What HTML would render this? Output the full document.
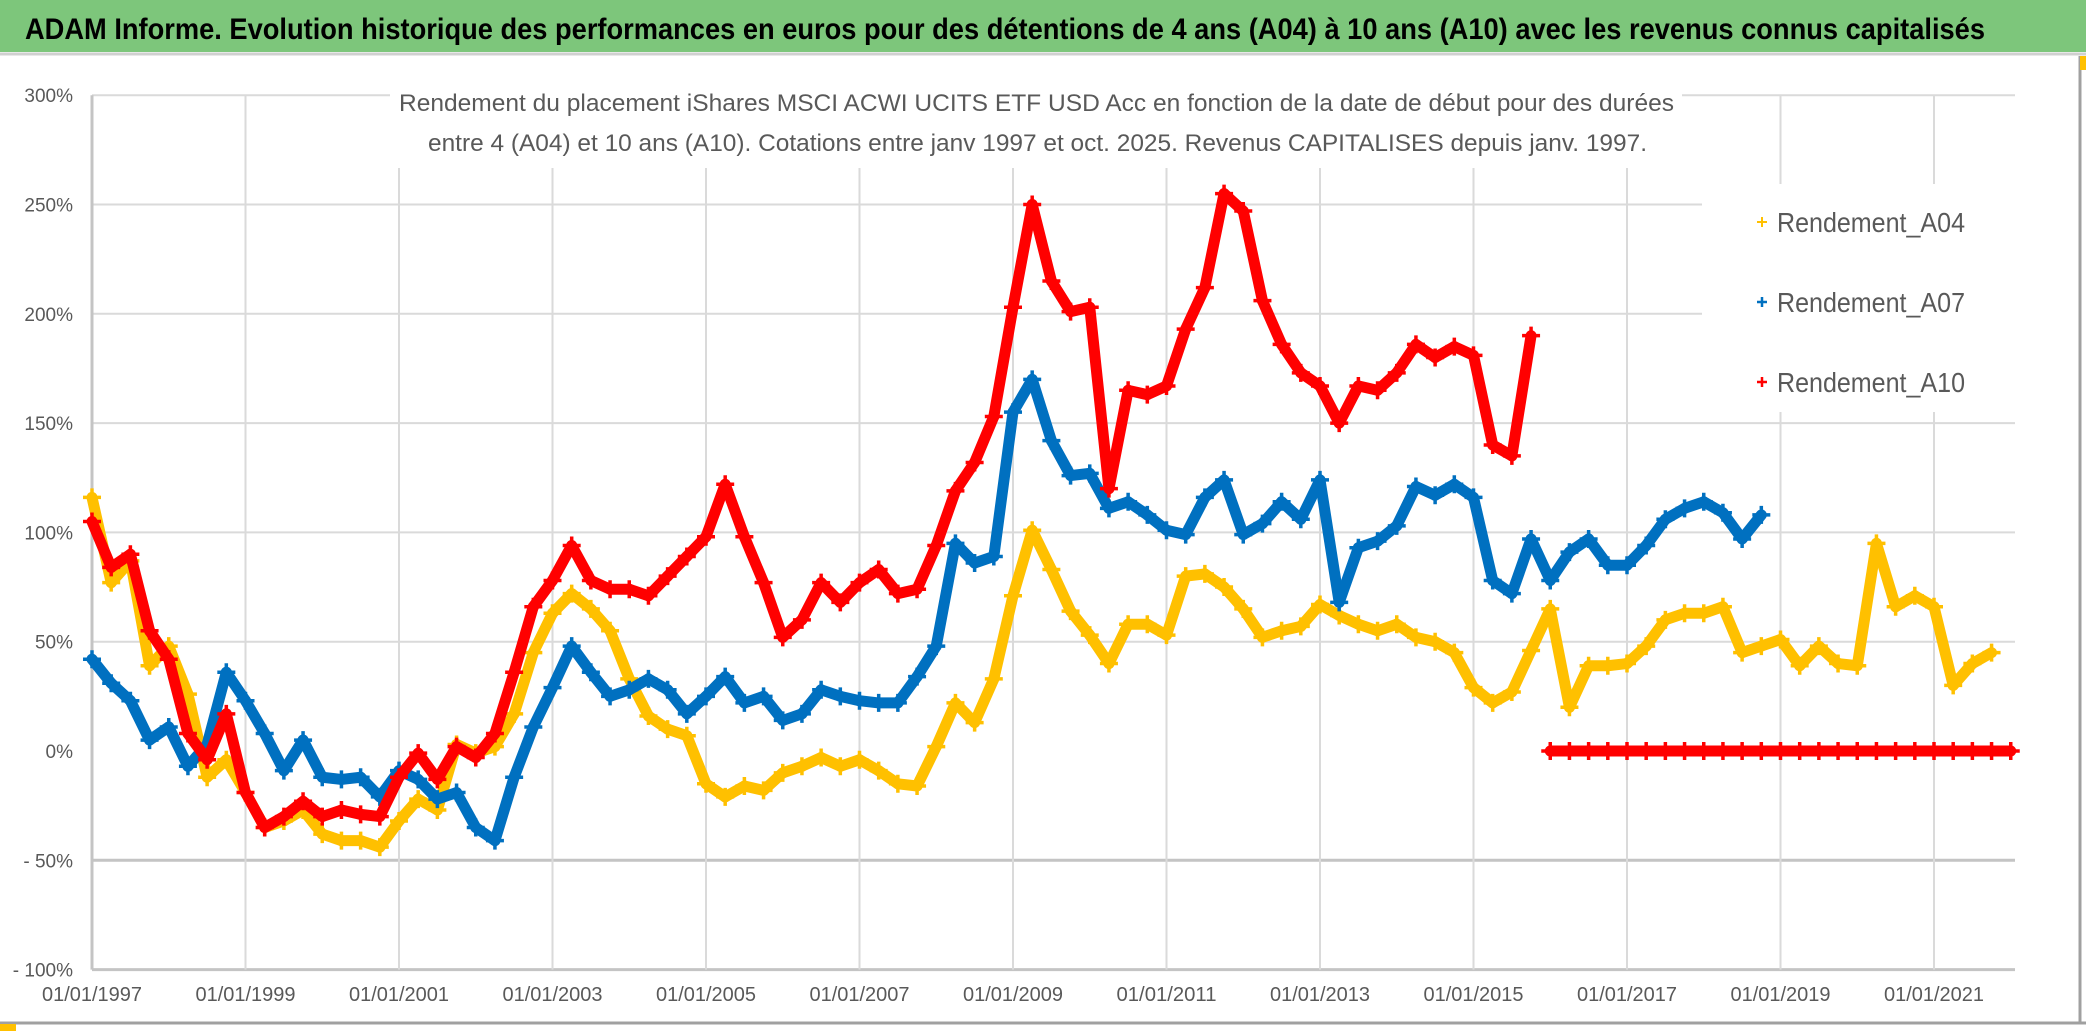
<!DOCTYPE html>
<html><head><meta charset="utf-8"><style>
html,body{margin:0;padding:0;background:#fff;}
svg{display:block;}
</style></head><body>
<svg id="chart" width="2086" height="1032" viewBox="0 0 2086 1032" xmlns="http://www.w3.org/2000/svg">
<rect x="0" y="0" width="2086" height="1032" fill="#ffffff"/>
<rect x="0" y="0" width="2086" height="52" fill="#7dc67b"/>
<line x1="0" y1="54" x2="2086" y2="54" stroke="#d0d0d0" stroke-width="3"/>
<text x="25" y="39" font-family="Liberation Sans, sans-serif" font-weight="bold" font-size="30" fill="#000" textLength="1960" lengthAdjust="spacingAndGlyphs">ADAM Informe. Evolution historique des performances en euros pour des détentions de 4 ans (A04) à 10 ans (A10) avec les revenus connus capitalisés</text>
<line x1="2080" y1="56" x2="2080" y2="1024" stroke="#a0a0a0" stroke-width="3"/>
<line x1="0" y1="1023" x2="2086" y2="1023" stroke="#a0a0a0" stroke-width="3"/>
<rect x="0" y="1024" width="16" height="7" fill="#ffc000"/>
<rect x="2080" y="56" width="6" height="14" fill="#ffc000"/>
<g id="grid"></g>
<g id="series"></g>
<rect x="390" y="78" width="1292" height="90" fill="#fff"/>
<text x="399" y="111" font-family="Liberation Sans, sans-serif" font-size="24" fill="#595959" textLength="1275" lengthAdjust="spacingAndGlyphs">Rendement du placement iShares MSCI ACWI UCITS ETF USD Acc en fonction de la date de début pour des durées</text>
<text x="428" y="151" font-family="Liberation Sans, sans-serif" font-size="24" fill="#595959" textLength="1219" lengthAdjust="spacingAndGlyphs">entre 4 (A04) et 10 ans (A10). Cotations entre janv 1997 et oct. 2025. Revenus CAPITALISES depuis janv. 1997.</text>
<g id="legend">
<rect x="1702" y="184" width="314" height="228" fill="#fff"/>
<g>
<path d="M1757 222h10M1762 217v10" stroke="#ffc000" stroke-width="2"/>
<text x="1777" y="232" font-family="Liberation Sans, sans-serif" font-size="28" fill="#595959" textLength="188" lengthAdjust="spacingAndGlyphs">Rendement_A04</text></g>
<g>
<path d="M1757 302h10M1762 297v10" stroke="#0070c0" stroke-width="2.5"/>
<text x="1777" y="312" font-family="Liberation Sans, sans-serif" font-size="28" fill="#595959" textLength="188" lengthAdjust="spacingAndGlyphs">Rendement_A07</text></g>
<g>
<path d="M1757 382h10M1762 377v10" stroke="#ff0000" stroke-width="2.5"/>
<text x="1777" y="392" font-family="Liberation Sans, sans-serif" font-size="28" fill="#595959" textLength="188" lengthAdjust="spacingAndGlyphs">Rendement_A10</text></g>
</g>
</svg>
<script>
// ---- data (quarterly samples starting 01/01/1997) ----
const startYear = 1997.0;
const stepYears = 0.25;
const yTicks = [300, 250, 200, 150, 100, 50, 0, -50, -100];
const yTickLabels = ["300%","250%","200%","150%","100%","50%","0%","- 50%","- 100%"];
const xTicks = [1997,1999,2001,2003,2005,2007,2009,2011,2013,2015,2017,2019,2021];
const xTickLabels = ["01/01/1997","01/01/1999","01/01/2001","01/01/2003","01/01/2005","01/01/2007","01/01/2009","01/01/2011","01/01/2013","01/01/2015","01/01/2017","01/01/2019","01/01/2021"];
const a04 = [116,77,87,39, 48,26,-12,-4, -19,-35,-32,-27, -38,-41,-41,-44, -32,-22,-27,3, -1,2,17,45,
  63,72,65,55, 33,16,10,7, -15,-21,-16,-18, -10,-7,-3,-7, -4,-9,-15,-16, 2,22,13,33,
  71,101,83,64, 53,40,58,58, 53,80,81,75, 65,52,55,57, 67,62,58,55, 58,52,50,45,
  29,22,27,46, 65,20,39,39, 40,48,60,63, 63,66,45,48, 51,39,48,40, 39,95,66,71, 66,30,40,45];
const a07 = [42,31,23,5, 11,-7,3,36, 23,8,-9,5, -12,-13,-12,-21, -9,-13,-22,-19, -35,-41,-12,11,
  29,48,36,25, 28,33,28,17, 25,34,22,25, 14,17,28,25, 23,22,22,34, 48,95,86,89,
  155,170,142,126, 127,111,114,108, 101,99,116,124, 99,104,114,106, 124,68,93,96,
  103,121,117,122, 116,78,72,97, 78,91,97,85, 85,94,106,111, 114,109,97,108];
const a10 = [105,84,90,55, 42,8,-4,17, -19,-35,-30,-23, -30,-27,-29,-30, -12,-1,-13,2, -3,8,36,66,
  78,94,78,74, 74,71,80,89, 98,122,98,77, 52,60,77,68, 77,83,72,74, 94,119,132,153,
  203,250,215,201, 203,120,165,163, 167,193,212,255, 247,206,186,173, 167,150,167,165,
  173,186,180,185, 181,140,135,190,
  0,0,0,0, 0,0,0,0, 0,0,0,0, 0,0,0,0, 0,0,0,0, 0,0,0,0, 0];

// ---- axes ----
const X0 = 92, PX_PER_YEAR = 76.75;
const Y0 = 751, PX_PER_PCT = 2.186;
function xs(yr){ return X0 + (yr - 1997) * PX_PER_YEAR; }
function ys(v){ return Y0 - v * PX_PER_PCT; }
const NS = "http://www.w3.org/2000/svg";
const svg = document.getElementById('chart');
const grid = document.getElementById('grid');
const series = document.getElementById('series');
const PLOT_RIGHT = 2015;

function mk(tag, attrs, parent){
  const e = document.createElementNS(NS, tag);
  for (const k in attrs) e.setAttribute(k, attrs[k]);
  parent.appendChild(e);
  return e;
}

yTicks.forEach((v, i) => {
  const y = ys(v);
  if (v !== 0) {
    const strong = (v === -100 || v === -50);
    const l = mk('line', {x1: X0, x2: PLOT_RIGHT, y1: y, y2: y, stroke: strong ? '#c4c4c4' : '#dadada', 'stroke-width': strong ? 3 : 2}, grid);
    
    
  }
  const t = mk('text', {x: 73, y: y + 7, 'text-anchor': 'end', 'font-family': 'Liberation Sans, sans-serif', 'font-size': 19, fill: '#595959'}, svg);
  t.textContent = yTickLabels[i];
  
  
});
xTicks.forEach((yr, i) => {
  const x = xs(yr);
  const l = mk('line', {x1: x, x2: x, y1: ys(300), y2: ys(-100), stroke: yr === 1997 ? '#c4c4c4' : '#dadada', 'stroke-width': yr === 1997 ? 3 : 2}, grid);
  
  
  const t = mk('text', {x: x, y: 1001, 'text-anchor': 'middle', 'font-family': 'Liberation Sans, sans-serif', 'font-size': 20, fill: '#595959', textLength: 100, lengthAdjust: 'spacingAndGlyphs'}, svg);
  t.textContent = xTickLabels[i];
  
  
});

function drawSeries(vals, color, name){
  const g = mk('g', {}, series);
  
  
  for (let i = 1; i < vals.length; i++) {
    const a = vals[i-1], b = vals[i];
    if (Math.abs(b - a) > 100) continue;
    const seg = mk('line', {x1: xs(startYear + (i-1)*stepYears), y1: ys(a), x2: xs(startYear + i*stepYears), y2: ys(b), stroke: color, 'stroke-width': 11, 'stroke-linecap': 'round'}, g);
    
    
  }
  vals.forEach((v, i) => {
    const x = xs(startYear + i*stepYears), y = ys(v);
    const p = mk('path', {d: `M${x-9} ${y}h18M${x} ${y-9}v18`, stroke: color, 'stroke-width': 3.5}, g);
    
    
  });
}
drawSeries(a04, '#ffc000', 'series-a04');
drawSeries(a07, '#0070c0', 'series-a07');
drawSeries(a10, '#ff0000', 'series-a10');
</script>
</body></html>
